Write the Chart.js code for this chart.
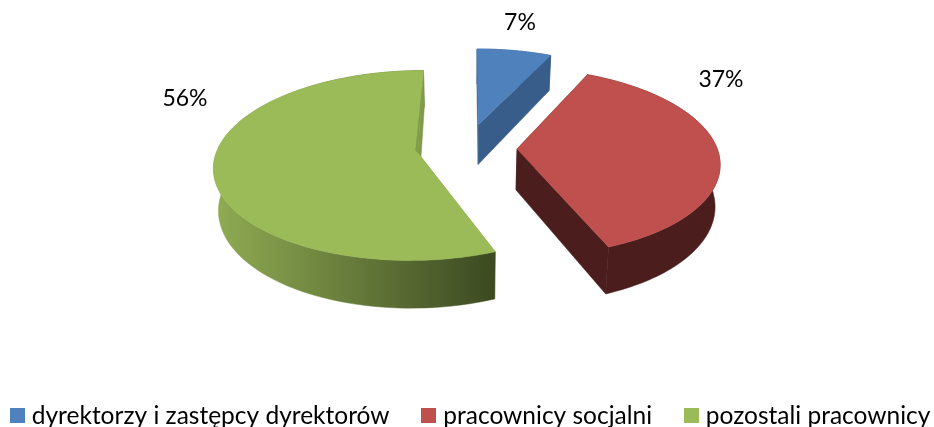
<!DOCTYPE html>
<html lang="pl">
<head>
<meta charset="utf-8">
<style>
html,body{margin:0;padding:0;background:#fff;overflow:hidden}
#wrap{position:relative;width:934px;height:427px;overflow:hidden}
#stage{position:absolute;left:-22px;top:-70px;width:1000px;height:508px}
</style>
<script src="https://cdn.jsdelivr.net/npm/chart.js@4"></script>
</head>
<body>
<div id="wrap"><div id="stage"><canvas id="c"></canvas></div></div>
<script>
const categories = ['dyrektorzy i zastępcy dyrektorów', 'pracownicy socjalni', 'pozostali pracownicy'];
const shares = [7, 37, 56];
const topColors = ['#4f81bd', '#c0504d', '#9bbb59'];
const sideFrom = ['#385d8a', '#4b1e1d', '#90ac53'];
const sideTo = ['#385d8a', '#4b1e1d', '#3c4921'];
const cutColors = ['#385d8a', '#4b1e1d', '#7f9a48'];
const explode = [54, 50, 50];
const labelOffsets = [[53, -126], [254, -69], [-282, -50]];

const TILT = 0.46, PERSP = 0.135, DEPTH = 41, BASE_SCALE = 0.98, STEPS = 90, SCENE_DX = -11;

function project(el, X, Y, low) {
  const s = 1 / (1 + PERSP * Y / el.outerRadius);
  const f = low ? BASE_SCALE : 1;
  return {
    x: el.x + SCENE_DX + X * s * f,
    y: el.y - Y * TILT * s + (low ? DEPTH * s : 0)
  };
}
function planePoint(el, theta, r) {
  const mid = (el.startAngle + el.endAngle) / 2 + Math.PI / 2;
  const off = el.options.offset || 0;
  return [off * Math.sin(mid) + r * Math.sin(theta), off * Math.cos(mid) + r * Math.cos(theta)];
}
function rimPoints(el, low) {
  const a0 = el.startAngle + Math.PI / 2, a1 = el.endAngle + Math.PI / 2, pts = [];
  for (let i = 0; i <= STEPS; i++) {
    const [X, Y] = planePoint(el, a0 + (a1 - a0) * i / STEPS, el.outerRadius);
    pts.push(project(el, X, Y, low));
  }
  return pts;
}
function apex(el, low) {
  const [X, Y] = planePoint(el, 0, 0);
  return project(el, X, Y, low);
}
function fillPoly(ctx, pts, fill) {
  ctx.beginPath();
  pts.forEach((p, i) => i ? ctx.lineTo(p.x, p.y) : ctx.moveTo(p.x, p.y));
  ctx.closePath();
  ctx.fillStyle = fill;
  ctx.strokeStyle = fill;
  ctx.lineWidth = 0.5;
  ctx.fill();
  ctx.stroke();
}

const pie3d = {
  id: 'pie3d',
  beforeDatasetDraw(chart, args) {
    const ctx = chart.ctx;
    const arcs = chart.getDatasetMeta(args.index).data;
    arcs.forEach((el, i) => {
      const top = rimPoints(el, false), low = rimPoints(el, true);
      const aT = apex(el, false), aL = apex(el, true);
      const xs = top.concat(low).map(p => p.x);
      const g = ctx.createLinearGradient(Math.min(...xs), 0, Math.max(...xs), 0);
      g.addColorStop(0, sideFrom[i]);
      g.addColorStop(1, sideTo[i]);
      fillPoly(ctx, [aT, top[0], low[0], aL], cutColors[i]);
      fillPoly(ctx, top.concat(low.slice().reverse()), g);
      fillPoly(ctx, [aT, top[STEPS], low[STEPS], aL], cutColors[i]);
      fillPoly(ctx, [aT].concat(top), el.options.backgroundColor);
      if (i === arcs.length - 1) {
        const e = top[STEPS], n = 0.2;
        const start = {x: e.x + (aT.x - e.x) * n, y: e.y + (aT.y - e.y) * n};
        fillPoly(ctx, [start, aT, {x: aT.x - 2, y: aT.y - 2}], cutColors[i]);
      }
    });
    return false;
  },
  afterDatasetsDraw(chart) {
    const ctx = chart.ctx, el = chart.getDatasetMeta(0).data[0];
    ctx.save();
    ctx.font = '23px Lato';
    ctx.fillStyle = '#000';
    ctx.textAlign = 'center';
    ctx.textBaseline = 'middle';
    shares.forEach((v, i) => ctx.fillText(v + '%', el.x + SCENE_DX + labelOffsets[i][0], el.y + labelOffsets[i][1]));
    ctx.restore();
  }
};

function swatch(color) {
  const c = document.createElement('canvas');
  c.width = 15; c.height = 15;
  const x = c.getContext('2d');
  x.fillStyle = color;
  x.fillRect(0, 0, 15, 15);
  return c;
}
const swatches = topColors.map(swatch);

new Chart(document.getElementById('c'), {
  type: 'pie',
  data: {
    labels: categories,
    datasets: [{data: shares, backgroundColor: topColors, borderWidth: 0, offset: explode, radius: 200}]
  },
  plugins: [pie3d],
  options: {
    responsive: true,
    maintainAspectRatio: false,
    animation: false,
    plugins: {
      tooltip: {enabled: false},
      legend: {
        position: 'bottom',
        align: 'start',
        labels: {
          usePointStyle: true,
          boxWidth: 4.5,
          boxHeight: 15,
          padding: 37,
          color: '#000',
          font: {family: 'Lato', size: 24.5},
          generateLabels(chart) {
            return categories.map((t, i) => ({text: t, fillStyle: topColors[i], strokeStyle: topColors[i], fontColor: '#000', lineWidth: 0, pointStyle: swatches[i], index: i, hidden: false}));
          }
        }
      }
    }
  }
});
</script>
</body>
</html>
